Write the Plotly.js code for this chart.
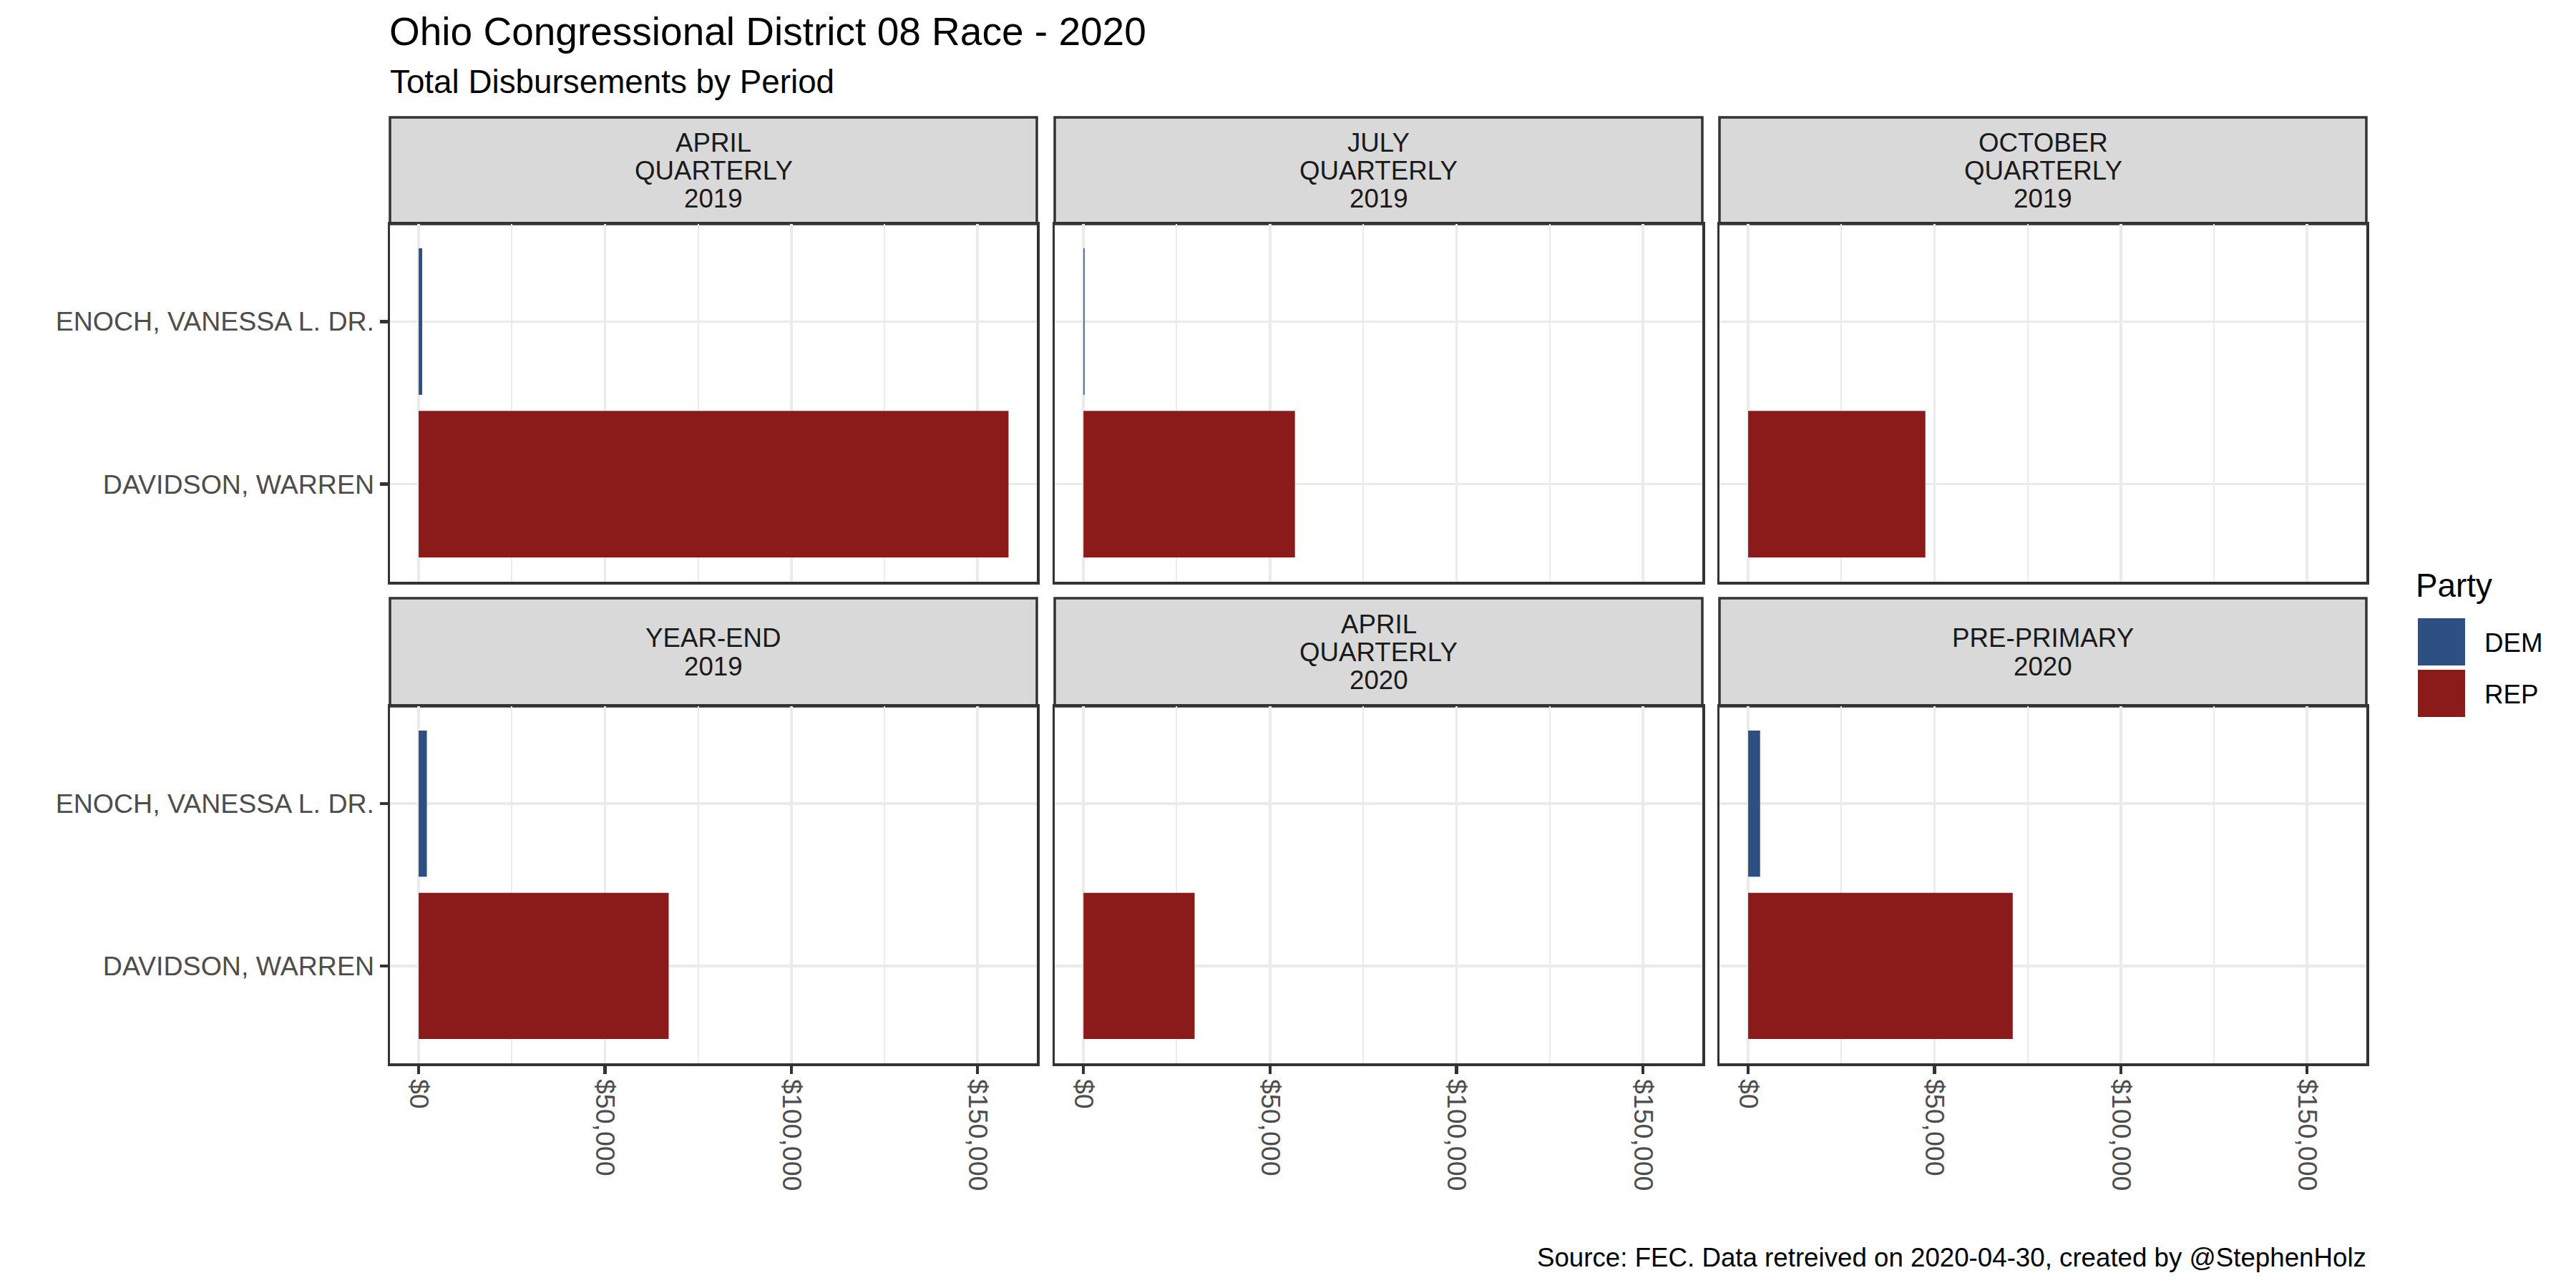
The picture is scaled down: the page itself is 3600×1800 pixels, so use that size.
<!DOCTYPE html>
<html>
<head>
<meta charset="utf-8">
<script src="https://cdn.plot.ly/plotly-3.0.1.min.js"></script>
<style>html,body{margin:0;padding:0;background:#fff;}#chart{width:3600px;height:1800px;}</style>
</head>
<body>
<div id="chart"></div>
<script>
// ---------------- DATA ----------------
const periods = ['APRIL QUARTERLY 2019', 'JULY QUARTERLY 2019', 'OCTOBER QUARTERLY 2019',
                 'YEAR-END 2019', 'APRIL QUARTERLY 2020', 'PRE-PRIMARY 2020'];
const stripLines = [['APRIL', 'QUARTERLY', '2019'], ['JULY', 'QUARTERLY', '2019'], ['OCTOBER', 'QUARTERLY', '2019'],
                    ['YEAR-END', '2019'], ['APRIL', 'QUARTERLY', '2020'], ['PRE-PRIMARY', '2020']];
const candidates = ['DAVIDSON, WARREN', 'ENOCH, VANESSA L. DR.'];
const parties = ['DEM', 'REP'];
const demCandidate = 'ENOCH, VANESSA L. DR.';
const repCandidate = 'DAVIDSON, WARREN';
const demValues = [950, 300, null, 2200, null, 3200];
const repValues = [158300, 56700, 47550, 67100, 29800, 71000];
const tickVals = [0, 50000, 100000, 150000];
const tickText = ['$0', '$50,000', '$100,000', '$150,000'];
const titleText = 'Ohio Congressional District 08 Race - 2020';
const subtitleText = 'Total Disbursements by Period';
const captionText = 'Source: FEC. Data retreived on 2020-04-30, created by @StephenHolz';
const legendTitle = 'Party';

// ---------------- STYLE / LAYOUT ----------------
const W = 3600, H = 1800;
const FONT = 'Liberation Sans, Arial, sans-serif';
const partyColors = {DEM: '#2D4F81', REP: '#8B1A1A'};
const cols = [[545, 1449], [1474, 2379], [2403, 3307]];
const rows = [{strip: [164, 313], panel: [313, 813]}, {strip: [836, 987], panel: [987, 1486]}];
const xRange = [-7700, 165900];
const px = v => v / W, py = v => 1 - v / H;

const traces = [];
const layout = {
  width: W, height: H,
  margin: {l: 0, r: 0, t: 0, b: 0},
  paper_bgcolor: '#ffffff', plot_bgcolor: '#ffffff',
  font: {family: FONT, color: '#000000'},
  showlegend: false,
  barmode: 'relative',
  bargap: 0.1,
  shapes: [],
  annotations: [],
  title: {
    text: titleText, x: px(544), xref: 'paper', xanchor: 'left',
    y: py(44), yref: 'paper', yanchor: 'middle',
    font: {family: FONT, size: 55, color: '#000000'}
  }
};

periods.forEach((p, i) => {
  const r = Math.floor(i / 3), c = i % 3, k = i + 1;
  const xa = 'x' + k, ya = 'y' + k;
  traces.push({
    type: 'bar', orientation: 'h', name: 'DEM',
    y: [demCandidate], x: [demValues[i]],
    marker: {color: partyColors.DEM, line: {width: 0}},
    xaxis: xa, yaxis: ya, hoverinfo: 'skip'
  });
  traces.push({
    type: 'bar', orientation: 'h', name: 'REP',
    y: [repCandidate], x: [repValues[i]],
    marker: {color: partyColors.REP, line: {width: 0}},
    xaxis: xa, yaxis: ya, hoverinfo: 'skip'
  });
  const bottom = r === 1, left = c === 0;
  layout['xaxis' + k] = {
    domain: [px(cols[c][0]), px(cols[c][1])],
    anchor: ya, range: xRange, fixedrange: true,
    tickmode: 'array', tickvals: tickVals, ticktext: tickText,
    showticklabels: bottom, ticks: bottom ? 'outside' : '',
    ticklen: 11, tickwidth: 4.5, tickcolor: '#333333', tickangle: 90,
    tickfont: {family: FONT, size: 37.5, color: '#4D4D4D'},
    showgrid: true, gridcolor: '#EBEBEB', gridwidth: 3.5,
    minor: {tickmode: 'linear', tick0: 0, dtick: 25000, showgrid: true, gridcolor: '#EBEBEB', gridwidth: 2, ticks: ''},
    zeroline: false, showline: true, mirror: true, linecolor: '#333333', linewidth: 3.5
  };
  layout['yaxis' + k] = {
    domain: [py(rows[r].panel[1]), py(rows[r].panel[0])],
    anchor: xa, type: 'category', categoryorder: 'array', categoryarray: candidates,
    range: [-0.6, 1.6], fixedrange: true,
    showticklabels: left, ticks: left ? 'outside' : '',
    ticklen: 11, tickwidth: 4.5, tickcolor: '#333333',
    tickfont: {family: FONT, size: 37.5, color: '#4D4D4D'},
    showgrid: true, gridcolor: '#EBEBEB', gridwidth: 3.5,
    zeroline: false, showline: true, mirror: true, linecolor: '#333333', linewidth: 3.5
  };
  // strip background
  layout.shapes.push({
    type: 'rect', xref: 'paper', yref: 'paper',
    x0: px(cols[c][0]), x1: px(cols[c][1]), y0: py(rows[r].strip[1]), y1: py(rows[r].strip[0]),
    fillcolor: '#D9D9D9', line: {color: '#333333', width: 3.5}, layer: 'below'
  });
  // strip labels, one line each
  const lines = stripLines[i];
  const cy = (rows[r].strip[0] + rows[r].strip[1]) / 2;
  const n = lines.length;
  lines.forEach((t, j) => {
    layout.annotations.push({
      text: t, xref: 'paper', yref: 'paper', showarrow: false,
      x: px((cols[c][0] + cols[c][1]) / 2), xanchor: 'center',
      y: py(cy + (j - (n - 1) / 2) * 39.3), yanchor: 'middle',
      font: {family: FONT, size: 36.7, color: '#1A1A1A'}
    });
  });
});

// subtitle & caption
layout.annotations.push({
  text: subtitleText, xref: 'paper', yref: 'paper', showarrow: false,
  x: px(543), xanchor: 'left', y: py(114), yanchor: 'middle',
  font: {family: FONT, size: 45.8, color: '#000000'}
});
layout.annotations.push({
  text: captionText, xref: 'paper', yref: 'paper', showarrow: false,
  x: px(3309), xanchor: 'right', y: py(1757), yanchor: 'middle',
  font: {family: FONT, size: 36.7, color: '#000000'}
});

// legend (drawn manually to match key size)
layout.annotations.push({
  text: legendTitle, xref: 'paper', yref: 'paper', showarrow: false,
  x: px(3374), xanchor: 'left', y: py(818), yanchor: 'middle',
  font: {family: FONT, size: 45.8, color: '#000000'}
});
const keyTop = [864, 936];
parties.forEach((p, j) => {
  layout.shapes.push({
    type: 'rect', xref: 'paper', yref: 'paper',
    x0: px(3379), x1: px(3445), y0: py(keyTop[j] + 66), y1: py(keyTop[j]),
    fillcolor: partyColors[p], line: {width: 0}
  });
  layout.annotations.push({
    text: p, xref: 'paper', yref: 'paper', showarrow: false,
    x: px(3470), xanchor: 'left', y: py(keyTop[j] + 34), yanchor: 'middle',
    font: {family: FONT, size: 36.7, color: '#000000'}
  });
});

Plotly.newPlot('chart', traces, layout, {staticPlot: true, displayModeBar: false});
</script>
</body>
</html>
